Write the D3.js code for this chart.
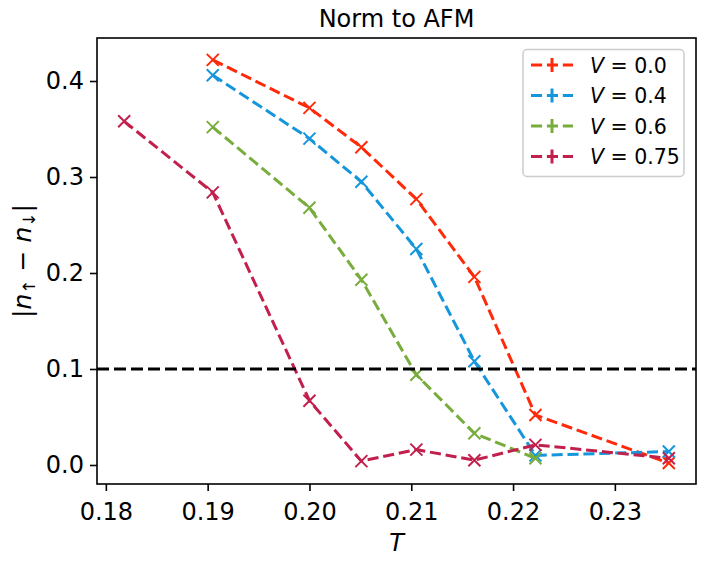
<!DOCTYPE html>
<html>
<head>
<meta charset="utf-8">
<script src="https://cdn.jsdelivr.net/npm/d3@7"></script>
<style>
  html, body { margin: 0; padding: 0; background: #ffffff; }
  svg { display: block; font-family: "DejaVu Sans", sans-serif; }
</style>
</head>
<body>
<svg id="chart" width="711" height="564"></svg>
<script>
// ---- Data ----
const xV00 = [0.1905, 0.2000, 0.2051, 0.2105, 0.2162, 0.2222, 0.2353];
const yV00 = [0.422, 0.372, 0.331, 0.277, 0.196, 0.052, 0.002];
const xV04 = [0.1905, 0.2000, 0.2051, 0.2105, 0.2162, 0.2222, 0.2353];
const yV04 = [0.406, 0.340, 0.295, 0.225, 0.108, 0.010, 0.014];
const xV06 = [0.1905, 0.2000, 0.2051, 0.2105, 0.2162, 0.2222];
const yV06 = [0.352, 0.268, 0.193, 0.094, 0.033, 0.007];
const xV075 = [0.1818, 0.1905, 0.2000, 0.2051, 0.2105, 0.2162, 0.2222, 0.2353];
const yV075 = [0.358, 0.284, 0.067, 0.004, 0.016, 0.005, 0.021, 0.007];
const seriesLabels = ["0.0", "0.4", "0.6", "0.75"];
const seriesColors = ["#ff2a0a", "#1596dc", "#78ac3c", "#c2204c"];
const xTicks = [0.18, 0.19, 0.20, 0.21, 0.22, 0.23];
const yTicks = [0.0, 0.1, 0.2, 0.3, 0.4];
const threshold = 0.1;
const xDomain = [0.17913, 0.23797];
const yDomain = [-0.0198, 0.4448];

const series = [
  {xs: xV00, ys: yV00}, {xs: xV04, ys: yV04},
  {xs: xV06, ys: yV06}, {xs: xV075, ys: yV075}
].map((s, i) => ({
  label: seriesLabels[i], color: seriesColors[i],
  pts: s.xs.map((x, j) => ({x, y: s.ys[j]}))
}));

// ---- Layout ----
const L = 97, R = 696, T = 38, B = 484;
const svg = d3.select("#chart");
const x = d3.scaleLinear().domain(xDomain).range([L, R]);
const y = d3.scaleLinear().domain(yDomain).range([B, T]);

// Lines and markers
const line = d3.line().x(d => x(d.x)).y(d => y(d.y));
const plot = svg.append("g");
series.forEach(s => {
  plot.append("path").datum(s.pts)
    .attr("d", line).attr("fill", "none")
    .attr("stroke", s.color).attr("stroke-width", 3)
    .attr("stroke-dasharray", "11.1,4.8");
  const m = 6;
  plot.append("g").selectAll("path").data(s.pts).join("path")
    .attr("d", d => {
      const cx = x(d.x), cy = y(d.y);
      return `M${cx-m},${cy-m}L${cx+m},${cy+m}M${cx-m},${cy+m}L${cx+m},${cy-m}`;
    })
    .attr("stroke", s.color).attr("stroke-width", 2).attr("fill", "none");
});

// Threshold line
plot.append("line")
  .attr("x1", L).attr("x2", R)
  .attr("y1", y(threshold)).attr("y2", y(threshold))
  .attr("stroke", "#000").attr("stroke-width", 3.2)
  .attr("stroke-dasharray", "12,5");

// Axes
const xAxis = d3.axisBottom(x).tickValues(xTicks).tickFormat(d3.format(".2f"))
  .tickSizeOuter(0).tickSizeInner(7).tickPadding(6);
const yAxis = d3.axisLeft(y).tickValues(yTicks).tickFormat(d3.format(".1f"))
  .tickSizeOuter(0).tickSizeInner(7).tickPadding(6);
const gx = svg.append("g").attr("transform", `translate(0,${B})`).call(xAxis);
const gy = svg.append("g").attr("transform", `translate(${L},0)`).call(yAxis);
[gx, gy].forEach(g => {
  g.select(".domain").remove();
  g.selectAll(".tick line").attr("stroke", "#000").attr("stroke-width", 1.6);
  g.selectAll(".tick text").attr("fill", "#000")
    .style("font-family", "DejaVu Sans").style("font-size", "24px");
});
gx.selectAll(".tick text").attr("dy", "0.95em");

// Frame
svg.append("rect").attr("x", L).attr("y", T)
  .attr("width", R - L).attr("height", B - T)
  .attr("fill", "none").attr("stroke", "#000").attr("stroke-width", 1.6);

// Title
svg.append("text").attr("x", (L + R) / 2).attr("y", 27)
  .attr("text-anchor", "middle").style("font-size", "24px")
  .text("Norm to AFM");

// X label
svg.append("text").attr("x", (L + R) / 2).attr("y", 551)
  .attr("text-anchor", "middle").style("font-size", "24px")
  .style("font-style", "italic").text("T");

// Y label
const yl = svg.append("text")
  .attr("transform", `translate(31,${(T + B) / 2}) rotate(-90)`)
  .attr("text-anchor", "middle").style("font-size", "25px");
yl.append("tspan").text("|");
yl.append("tspan").style("font-style", "italic").text("n");
yl.append("tspan").attr("dy", 4).style("font-size", "17px").text("↑");
yl.append("tspan").attr("dy", -4).text(" − ");
yl.append("tspan").style("font-style", "italic").text("n");
yl.append("tspan").attr("dy", 4).style("font-size", "17px").text("↓");
yl.append("tspan").attr("dy", -4).text("|");

// Legend
const lg = svg.append("g");
lg.append("rect").attr("x", 523).attr("y", 49.5)
  .attr("width", 161).attr("height", 127).attr("rx", 4)
  .attr("fill", "#fff").attr("fill-opacity", 0.8)
  .attr("stroke", "#cccccc").attr("stroke-width", 1.5);
series.forEach((s, i) => {
  const cy = 65 + i * 30.5;
  lg.append("line").attr("x1", 531).attr("x2", 573)
    .attr("y1", cy).attr("y2", cy)
    .attr("stroke", s.color).attr("stroke-width", 3)
    .attr("stroke-dasharray", "11.1,4.8");
  lg.append("line").attr("x1", 552).attr("x2", 552)
    .attr("y1", cy - 7).attr("y2", cy + 7)
    .attr("stroke", s.color).attr("stroke-width", 3);
  const t = lg.append("text").attr("x", 590).attr("y", cy + 7.5)
    .style("font-size", "20.5px");
  t.append("tspan").style("font-style", "italic").text("V");
  t.append("tspan").text(" = " + s.label);
});
</script>
</body>
</html>
